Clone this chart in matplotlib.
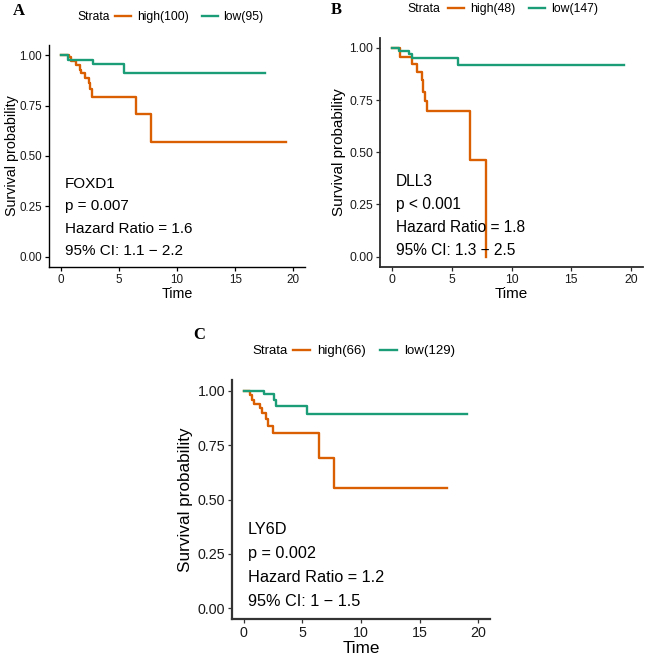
import matplotlib
matplotlib.use('Agg')
from matplotlib import pyplot as plt
from matplotlib.lines import Line2D

plt.rcParams['font.family'] = ['Liberation Sans', 'DejaVu Sans']

HIGH_COLOR = '#D95F02'
LOW_COLOR = '#1B9E77'

# Panel A - FOXD1
a_high_t = [0, 0.72, 0.92, 1.35, 1.64, 1.78, 2.07, 2.44, 2.56, 2.73, 6.46, 7.8, 19.37]
a_high_s = [1.0, 0.989, 0.972, 0.95, 0.926, 0.909, 0.885, 0.86, 0.83, 0.79, 0.708, 0.567, 0.567]
a_low_t = [0, 0.63, 2.79, 5.45, 17.6]
a_low_s = [1.0, 0.975, 0.955, 0.913, 0.913]
a_labels = ['high(100)', 'low(95)']
a_text = ['FOXD1', 'p = 0.007', 'Hazard Ratio = 1.6', '95% CI: 1.1 \u2212 2.2']

# Panel B - DLL3
b_high_t = [0, 0.67, 1.7, 2.12, 2.48, 2.62, 2.76, 2.9, 6.5, 7.85, 7.85]
b_high_s = [1.0, 0.957, 0.925, 0.886, 0.845, 0.79, 0.747, 0.70, 0.464, 0.0, 0.0]
b_low_t = [0, 0.6, 1.45, 1.65, 5.5, 19.44]
b_low_s = [1.0, 0.985, 0.97, 0.952, 0.92, 0.92]
b_labels = ['high(48)', 'low(147)']
b_text = ['DLL3', 'p < 0.001', 'Hazard Ratio = 1.8', '95% CI: 1.3 \u2212 2.5']

# Panel C - LY6D
c_high_t = [0, 0.54, 0.7, 0.9, 1.4, 1.6, 1.9, 2.1, 2.48, 6.41, 7.69, 17.35]
c_high_s = [1.0, 0.98, 0.96, 0.939, 0.92, 0.90, 0.87, 0.839, 0.805, 0.693, 0.552, 0.552]
c_low_t = [0, 1.71, 2.56, 2.76, 5.36, 19.0]
c_low_s = [1.0, 0.986, 0.96, 0.931, 0.893, 0.893]
c_labels = ['high(66)', 'low(129)']
c_text = ['LY6D', 'p = 0.002', 'Hazard Ratio = 1.2', '95% CI: 1 \u2212 1.5']

W, H = 648, 655


def plot_km_panel(fig, rect, high, low, labels, notes, letter, letter_xy,
                  strata_xy, legend_x, sizes, spine_color, spine_w, ypad):
    '''Draw one survival panel with its legend and annotation'''
    tick_fs, label_fs, note_fs, leg_fs = sizes
    ax = fig.add_axes(rect)
    ax.step(high[0], high[1], where='post', color=HIGH_COLOR, lw=1.7)
    ax.step(low[0], low[1], where='post', color=LOW_COLOR, lw=1.7)

    ax.set_xlim(-1, 21)
    ax.set_ylim(-0.05, 1.05)
    ax.set_xticks([0, 5, 10, 15, 20])
    ax.set_yticks([0, 0.25, 0.5, 0.75, 1.0])
    ax.set_yticklabels(['0.00', '0.25', '0.50', '0.75', '1.00'])
    ax.tick_params(labelsize=tick_fs, length=3, width=0.9, colors=spine_color,
                   labelcolor='#1a1a1a', pad=2)
    for side in ['top', 'right']:
        ax.spines[side].set_visible(False)
    for side in ['left', 'bottom']:
        ax.spines[side].set_linewidth(spine_w)
        ax.spines[side].set_color(spine_color)
    ax.set_xlabel('Time', fontsize=label_fs, labelpad=1)
    ax.set_ylabel('Survival probability', fontsize=label_fs, labelpad=ypad)

    ys = [0.36, 0.25, 0.14, 0.03]
    for txt, y in zip(notes, ys):
        ax.text(0.35, y, txt, fontsize=note_fs, va='center', ha='left')

    fig.text(letter_xy[0] / W, 1 - letter_xy[1] / H, letter, fontsize=12,
             fontweight='bold', family='Liberation Serif', va='center', ha='left')
    fig.text(strata_xy[0] / W, 1 - strata_xy[1] / H, 'Strata', fontsize=leg_fs,
             va='center', ha='left')
    handles = [Line2D([], [], color=HIGH_COLOR, lw=1.7),
               Line2D([], [], color=LOW_COLOR, lw=1.7)]
    fig.legend(handles, labels, loc='center left', ncol=2, frameon=False,
               bbox_to_anchor=(legend_x / W, 1 - strata_xy[1] / H),
               fontsize=leg_fs, borderpad=0, borderaxespad=0,
               handlelength=1.3, handletextpad=0.5, columnspacing=1.1)
    return ax


fig = plt.figure(figsize=(W / 100, H / 100), dpi=100)

plot_km_panel(fig, [49 / W, 1 - 267 / H, 256 / W, 222 / H],
              (a_high_t, a_high_s), (a_low_t, a_low_s), a_labels, a_text,
              'A', (13, 11), (77, 17), 115, (8.4, 10.3, 11, 8.7), 'black', 1.0, 0)
plot_km_panel(fig, [380 / W, 1 - 267 / H, 263 / W, 229.5 / H],
              (b_high_t, b_high_s), (b_low_t, b_low_s), b_labels, b_text,
              'B', (331, 10), (407, 9), 448, (8.8, 11, 11.2, 8.8), '#2b2b2b', 1.3, 2.5)
plot_km_panel(fig, [232 / W, 1 - 619 / H, 258 / W, 239 / H],
              (c_high_t, c_high_s), (c_low_t, c_low_s), c_labels, c_text,
              'C', (193, 335), (252, 351), 293, (10.3, 12.3, 11.7, 9.5), '#333333', 1.6, 3)

fig.savefig('out.png', dpi=100)
